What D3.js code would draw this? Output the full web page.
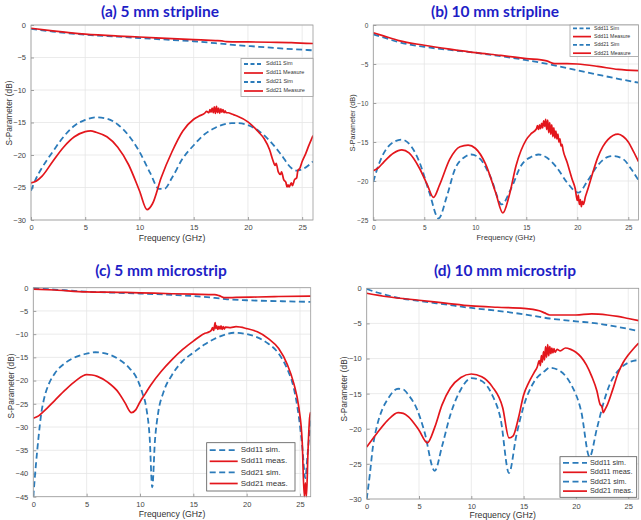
<!DOCTYPE html>
<html><head><meta charset="utf-8">
<script src="https://cdn.jsdelivr.net/npm/d3@7"></script>
<style>
body{margin:0;background:#fff;}
svg{display:block;}
</style></head>
<body>
<svg id="chart" width="641" height="520"></svg>
<script>
// ---------- DATA ----------
const xTicks = [0, 5, 10, 15, 20, 25];
const yTicksA = [0, -5, -10, -15, -20, -25, -30];
const yTicksB = [0, -5, -10, -15, -20, -25];
const yTicksC = [0, -5, -10, -15, -20, -25, -30, -35, -40, -45];
const yTicksD = [0, -5, -10, -15, -20, -25, -30];

const titles = ["(a) 5 mm stripline", "(b) 10 mm stripline", "(c) 5 mm microstrip", "(d) 10 mm microstrip"];
const legendStrip = ["Sdd11 Sim", "Sdd11 Measure", "Sdd21 Sim", "Sdd21 Measure"];
const legendMicro = ["Sdd11 sim.", "Sdd11 meas.", "Sdd21 sim.", "Sdd21 meas."];

// panel (a)
const aTopSim = [[0,-0.6],[2,-1.0],[5,-1.5],[8,-1.8],[10,-2.0],[13,-2.3],[15,-2.5],[17,-2.8],[19,-3.1],[21,-3.35],[23,-3.6],[25,-3.8],[26,-3.9]];
const aTopMeas = [[0,-0.5],[2,-0.9],[5,-1.4],[8,-1.7],[10,-1.85],[13,-2.1],[15,-2.25],[17,-2.4],[17.6,-2.45],[18,-2.55],[20,-2.6],[22,-2.65],[24,-2.7],[26,-2.85]];
const aLowSim = [[0,-25.5],[0.5,-23.5],[1,-22],[2,-19.5],[3,-17.2],[4,-15.5],[5,-14.6],[6,-14.2],[7,-14.4],[8,-15.3],[9,-17.0],[10,-19.5],[11,-22.8],[11.8,-25.2],[12.3,-25.2],[13,-23.5],[14,-20.5],[15,-18.5],[16,-16.8],[17,-15.8],[18,-15.2],[18.5,-15.1],[19,-15.1],[20,-15.4],[21,-16.3],[22,-17.8],[23,-19.8],[24,-22.0],[24.5,-22.4],[25,-22.2],[26,-21.0]];
const aLowMeas = [[0,-24.3],[0.5,-24.0],[1,-23.3],[2,-21.0],[3,-18.8],[4,-17.2],[5,-16.4],[5.5,-16.3],[6,-16.5],[7,-17.2],[8,-18.8],[9,-21.5],[10,-25.5],[10.7,-28.4],[11.2,-27.5],[12,-23.5],[13,-19.5],[14,-16.3],[15,-14.5],[15.5,-14.0],[16,-13.6],[16.2,-13.3],[16.4,-13.5],[16.5,-13.0],[16.6,-13.4],[16.7,-12.8],[16.8,-13.5],[16.9,-12.6],[17.0,-13.6],[17.1,-12.5],[17.2,-13.5],[17.3,-12.8],[17.4,-13.6],[17.5,-12.9],[17.6,-13.4],[17.7,-13.0],[17.8,-13.5],[17.9,-13.2],[18.0,-13.5],[18.2,-13.5],[18.5,-13.7],[19,-14.0],[20,-14.9],[21,-16.5],[21.5,-17.5],[22,-19.2],[22.3,-20.8],[22.5,-21.6],[22.6,-21.3],[22.8,-22.6],[23.0,-23.0],[23.1,-22.6],[23.3,-23.8],[23.5,-24.2],[23.6,-24.9],[23.7,-24.6],[23.8,-24.9],[24.0,-24.3],[24.1,-24.7],[24.3,-23.8],[24.5,-23.5],[24.6,-22.4],[24.8,-22.0],[25.0,-21.0],[25.3,-19.9],[25.6,-18.6],[26,-17.0]];

// panel (b)
const bTopSim = [[0,-1.2],[1,-1.6],[2.5,-2.2],[5,-2.8],[7.5,-3.2],[10,-3.55],[12.5,-4.0],[15,-4.5],[17.5,-5.1],[20,-5.8],[22.5,-6.5],[24,-6.9],[26,-7.4]];
const bTopMeas = [[0,-1.0],[1,-1.4],[2.5,-2.0],[5,-2.6],[7.5,-3.1],[10,-3.55],[12.5,-3.9],[15,-4.3],[17,-4.6],[17.8,-4.95],[19,-4.95],[20,-5.0],[22,-5.3],[24,-5.7],[26,-5.85]];
const bLowSim = [[0,-20.1],[0.5,-18],[1,-16.5],[2,-15.0],[2.8,-14.7],[3.5,-15.2],[4.5,-17.5],[5.5,-21.5],[6.4,-24.8],[7.2,-22],[8,-18.5],[9,-16.9],[9.6,-16.6],[10.5,-17.2],[11.5,-19.5],[12.6,-23.0],[13.5,-21],[14.5,-18.0],[15.5,-16.9],[16.2,-16.6],[17,-17.0],[18,-18.3],[19,-20.2],[20.1,-21.5],[21,-20],[22,-18],[23,-16.9],[23.5,-16.8],[24.5,-17.2],[25.3,-18.5],[26,-19.9]];
const bLowMeas = [[0,-18.7],[0.5,-18.3],[1,-17.6],[2,-16.4],[2.8,-16.0],[3.5,-16.4],[4.5,-18.3],[5.3,-20.5],[5.9,-22.1],[6.5,-20.5],[7.5,-17.2],[8.5,-15.6],[9.3,-15.4],[10,-15.8],[11,-17.8],[12,-21.5],[12.7,-24.1],[13.3,-22.0],[14,-18.0],[15,-14.7],[15.5,-13.9],[16.0,-13.3],[16.1,-12.9],[16.2,-13.4],[16.3,-12.8],[16.4,-13.3],[16.5,-12.6],[16.6,-13.2],[16.7,-12.3],[16.8,-13.0],[16.9,-12.1],[17.0,-13.4],[17.1,-12.2],[17.2,-13.8],[17.3,-12.5],[17.4,-14.0],[17.5,-12.8],[17.6,-14.3],[17.7,-13.2],[17.8,-14.5],[17.9,-13.6],[18.0,-14.6],[18.1,-14.0],[18.2,-15.0],[18.3,-14.6],[18.4,-15.5],[18.5,-15.3],[18.6,-16.0],[19.0,-17.6],[19.5,-19.8],[19.8,-21.0],[20.0,-22.5],[20.1,-21.8],[20.2,-23.0],[20.3,-22.4],[20.4,-23.3],[20.5,-22.6],[20.6,-23.0],[20.8,-22.0],[21.0,-21.2],[21.5,-19.0],[22,-17.0],[22.5,-15.6],[23,-14.7],[24,-14.0],[24.5,-14.3],[25,-15.0],[25.5,-16.2],[26,-17.5]];

// panel (c)
const cTopSim = [[0,-0.1],[2,-0.4],[5,-0.85],[8,-1.1],[10,-1.25],[13,-1.55],[15,-1.8],[17,-2.2],[18,-2.45],[20,-2.7],[22,-2.85],[24,-2.95],[26,-3.05]];
const cTopMeas = [[0,-0.3],[2,-0.5],[5,-0.9],[8,-1.0],[10,-1.1],[13,-1.3],[15,-1.4],[17,-1.5],[17.4,-1.7],[17.9,-2.15],[19,-2.1],[21,-2.0],[23,-1.9],[26,-1.8]];
const cLowSim = [[0,-45],[0.25,-38],[0.5,-32],[0.75,-27],[1,-24],[1.5,-20.5],[2,-18.5],[3,-16.2],[4,-14.9],[5,-14.2],[5.8,-13.9],[7,-14.3],[8,-15.4],[9,-17.3],[9.7,-19.5],[10.2,-22.5],[10.6,-26],[10.9,-32],[11.15,-43],[11.4,-33],[11.7,-27],[12.2,-22.5],[13,-18.8],[14,-15.8],[15,-14.0],[16,-12.3],[17,-11.0],[18,-10.1],[18.8,-9.7],[19.8,-9.9],[21,-10.7],[22,-12.0],[23,-14.2],[23.8,-17.5],[24.4,-21.5],[24.9,-28],[25.2,-34],[25.5,-41],[25.7,-36],[26,-28]];
const cLowMeas = [[0,-28.1],[0.5,-27.6],[1,-26.6],[2,-24.3],[3,-22.0],[4,-20.0],[5,-18.7],[5.5,-18.8],[6,-19.1],[7,-20.4],[8,-22.6],[8.6,-24.8],[9.2,-26.9],[9.6,-26.3],[10,-24.6],[10.5,-22.8],[11,-21.0],[12,-18.0],[13,-15.5],[14,-13.3],[15,-11.5],[16,-9.9],[16.5,-9.5],[16.7,-9.1],[16.8,-8.6],[16.9,-9.2],[17.0,-8.0],[17.05,-7.5],[17.1,-8.8],[17.2,-8.2],[17.3,-9.0],[17.4,-8.3],[17.5,-8.9],[17.6,-8.2],[17.7,-9.0],[17.8,-8.4],[17.9,-8.9],[18.0,-8.5],[18.5,-8.6],[19,-8.4],[20,-8.8],[21,-9.5],[22,-10.9],[23,-13.1],[23.8,-16.5],[24.4,-20.5],[24.9,-26],[25.2,-33],[25.4,-45],[25.5,-42],[25.6,-45],[25.75,-35],[25.9,-28],[26,-26.8]];

// panel (d)
const dTopSim = [[0,-0.1],[1,-0.6],[2,-1.0],[3,-1.35],[5,-1.8],[7.5,-2.3],[10,-2.8],[12.5,-3.2],[15,-3.7],[17.5,-4.3],[20,-4.7],[22,-5.0],[24,-5.5],[26,-6.1]];
const dTopMeas = [[0,-0.7],[2,-1.2],[5,-1.7],[7.5,-2.1],[10,-2.5],[12.5,-2.7],[15,-2.85],[16.5,-3.2],[17,-3.5],[17.5,-3.8],[18.5,-3.8],[20,-3.8],[21.5,-3.65],[23,-3.8],[24,-4.0],[25,-4.3],[26,-4.6]];
const dLowSim = [[0,-30],[0.3,-26.5],[0.6,-22.5],[1,-19.5],[1.5,-17.2],[2,-15.8],[3,-14.3],[3.5,-14.4],[4,-15.2],[4.8,-17.2],[5.5,-20.3],[6.5,-26],[7.2,-22.5],[8,-18],[9,-14.4],[10,-12.8],[11,-13.2],[12,-15.2],[12.8,-18.6],[13.6,-26.3],[14.3,-21],[15,-16.8],[16,-13.3],[17,-11.8],[17.5,-11.3],[18.5,-11.8],[19.5,-13.6],[20.5,-17.5],[21.3,-24],[22,-20],[22.6,-16.5],[23.2,-13.8],[24,-11.8],[25,-10.6],[26,-10.2]];
const dLowMeas = [[0,-22.6],[1,-20.6],[2,-18.8],[3,-17.7],[3.5,-17.8],[4,-18.3],[5,-20.2],[5.8,-22.0],[6.5,-19.8],[7.2,-16.6],[8,-14.2],[9,-12.7],[10,-12.2],[11,-12.6],[12,-14.0],[13,-17.0],[13.6,-21.3],[14,-21.0],[14.5,-18.5],[15,-15.2],[15.5,-13.4],[16,-12.0],[16.3,-11.2],[16.5,-10.3],[16.6,-11.0],[16.7,-9.6],[16.8,-10.5],[16.9,-9.0],[17.0,-10.2],[17.1,-8.3],[17.2,-9.8],[17.3,-8.0],[17.4,-9.6],[17.5,-8.3],[17.6,-9.3],[17.7,-8.5],[17.8,-9.2],[17.9,-8.6],[18.0,-9.1],[18.2,-8.7],[18.5,-8.9],[19,-8.5],[19.5,-8.7],[20,-9.1],[20.5,-9.8],[21,-10.9],[21.5,-12.5],[22,-14.6],[22.3,-16.5],[22.5,-16.9],[22.6,-17.7],[22.8,-17.2],[23,-16.6],[23.5,-14.5],[24,-12.2],[24.5,-10.6],[25,-9.5],[25.5,-8.6],[26,-7.8]];

// ---------- DRAW ----------
const BLUE = "#2b7bba", RED = "#e3161c", TITLE = "#1e1ec6";
const svg = d3.select("#chart");

const panels = [
  {id:"a", title:titles[0], tx:160, ty:17, L:31, R:313, T:25, B:220, yMin:-30, yTicks:yTicksA,
   series:[aTopSim,aTopMeas,aLowSim,aLowMeas], legend:legendStrip, fs:7.5, lfs:5.5,
   lg:{x:241, y:58.5, w:72, h:38, row:9, sample:19}, ylx:10, yly:113, xly:241, legStroke:"#a0a0a0"},
  {id:"b", title:titles[1], tx:495, ty:17, L:373.3, R:638.5, T:25, B:220, yMin:-25, yTicks:yTicksB,
   series:[bTopSim,bTopMeas,bLowSim,bLowMeas], legend:legendStrip, fs:6.5, lfs:5.2,
   lg:{x:570, y:25, w:68.5, h:31.5, row:8.3, sample:18}, ylx:353, yly:123, xly:240, legStroke:"#a0a0a0"},
  {id:"c", title:titles[2], tx:161, ty:276, L:33.3, R:310.7, T:287.7, B:496.7, yMin:-45, yTicks:yTicksC,
   series:[cTopSim,cTopMeas,cLowSim,cLowMeas], legend:legendMicro, fs:7.5, lfs:8,
   lg:{x:206.7, y:442.7, w:88.3, h:48.3, row:11.1, sample:28}, ylx:12, yly:386, xly:517, legStroke:"#555"},
  {id:"d", title:titles[3], tx:505, ty:276, L:366.7, R:638.7, T:288.3, B:499, yMin:-30, yTicks:yTicksD,
   series:[dTopSim,dTopMeas,dLowSim,dLowMeas], legend:legendMicro, fs:7.5, lfs:7.3,
   lg:{x:560, y:456.7, w:76.7, h:40.6, row:9.4, sample:24}, ylx:345, yly:389, xly:518, legStroke:"#555"}
];

panels.forEach(p => {
  const x = d3.scaleLinear().domain([0, 26]).range([p.L, p.R]);
  const y = d3.scaleLinear().domain([p.yMin, 0]).range([p.B, p.T]);
  const g = svg.append("g");

  g.append("text").attr("x", p.tx).attr("y", p.ty).attr("text-anchor","middle")
    .attr("font-family","Lato, 'Open Sans', sans-serif").attr("font-weight","bold")
    .attr("font-size",15.5).attr("fill",TITLE).text(p.title);

  g.append("rect").attr("x",p.L).attr("y",p.T).attr("width",p.R-p.L).attr("height",p.B-p.T).attr("fill","#fff");

  g.append("g").selectAll("line").data(xTicks).join("line")
    .attr("x1",d=>x(d)).attr("x2",d=>x(d)).attr("y1",p.T).attr("y2",p.B)
    .attr("stroke","#e6e6e6").attr("stroke-width",0.8);
  g.append("g").selectAll("line").data(p.yTicks).join("line")
    .attr("x1",p.L).attr("x2",p.R).attr("y1",d=>y(d)).attr("y2",d=>y(d))
    .attr("stroke","#e6e6e6").attr("stroke-width",0.8);

  const xa = g.append("g").attr("transform",`translate(0,${p.B})`)
    .call(d3.axisBottom(x).tickValues(xTicks).tickSize(-3).tickPadding(5));
  const ya = g.append("g").attr("transform",`translate(${p.L},0)`)
    .call(d3.axisLeft(y).tickValues(p.yTicks).tickSize(-3).tickPadding(5).tickFormat(d3.format("d")));
  [xa, ya].forEach(a => {
    a.select(".domain").remove();
    a.selectAll("line").attr("stroke","#666").attr("stroke-width",0.6);
    a.selectAll("text").attr("font-family","'Liberation Sans', Arial, sans-serif")
      .attr("font-size",p.fs).attr("fill","#444");
  });

  const cid = "clip" + p.id;
  svg.append("clipPath").attr("id",cid).append("rect")
    .attr("x",p.L).attr("y",p.T-1).attr("width",p.R-p.L).attr("height",p.B-p.T+2);

  const line = d3.line().x(d=>x(d[0])).y(d=>y(d[1])).curve(d3.curveMonotoneX);
  const styles = [
    {c:BLUE, dash:"6,3.5", w:1.8},
    {c:RED, dash:null, w:1.7},
    {c:BLUE, dash:"6,3.5", w:1.8},
    {c:RED, dash:null, w:1.7}
  ];
  const lg = g.append("g").attr("clip-path",`url(#${cid})`);
  [0,2,1,3].forEach(i => {
    lg.append("path").datum(p.series[i]).attr("d",line).attr("fill","none")
      .attr("stroke",styles[i].c).attr("stroke-width",styles[i].w)
      .attr("stroke-dasharray",styles[i].dash).attr("stroke-linejoin","round");
  });

  g.append("rect").attr("x",p.L).attr("y",p.T).attr("width",p.R-p.L).attr("height",p.B-p.T)
    .attr("fill","none").attr("stroke","#9a9a9a").attr("stroke-width",0.8);

  g.append("text").attr("x",(p.L+p.R)/2).attr("y",p.xly).attr("text-anchor","middle")
    .attr("font-family","'Liberation Sans', Arial, sans-serif").attr("font-size",p.fs+1.2)
    .attr("fill","#333").text("Frequency (GHz)");
  g.append("text").attr("transform",`translate(${p.ylx},${p.yly}) rotate(-90)`)
    .attr("text-anchor","middle").attr("dominant-baseline","middle")
    .attr("font-family","'Liberation Sans', Arial, sans-serif").attr("font-size",p.fs+0.8)
    .attr("fill","#333").text("S-Parameter (dB)");

  const L = p.lg;
  const leg = g.append("g");
  leg.append("rect").attr("x",L.x).attr("y",L.y).attr("width",L.w).attr("height",L.h)
    .attr("fill","#fff").attr("stroke",p.legStroke).attr("stroke-width",0.8);
  p.legend.forEach((t,i) => {
    const yy = L.y + L.h/2 + (i-1.5)*L.row;
    leg.append("line").attr("x1",L.x+3).attr("x2",L.x+3+L.sample).attr("y1",yy).attr("y2",yy)
      .attr("stroke",styles[i].c).attr("stroke-width",styles[i].w)
      .attr("stroke-dasharray",styles[i].dash ? (p.id==="a"||p.id==="b" ? "4,2.5" : "6,3.5") : null);
    leg.append("text").attr("x",L.x+6+L.sample).attr("y",yy).attr("dominant-baseline","middle")
      .attr("font-family","'Liberation Sans', Arial, sans-serif").attr("font-size",p.lfs)
      .attr("fill","#333").text(t);
  });
});
</script>
</body></html>
